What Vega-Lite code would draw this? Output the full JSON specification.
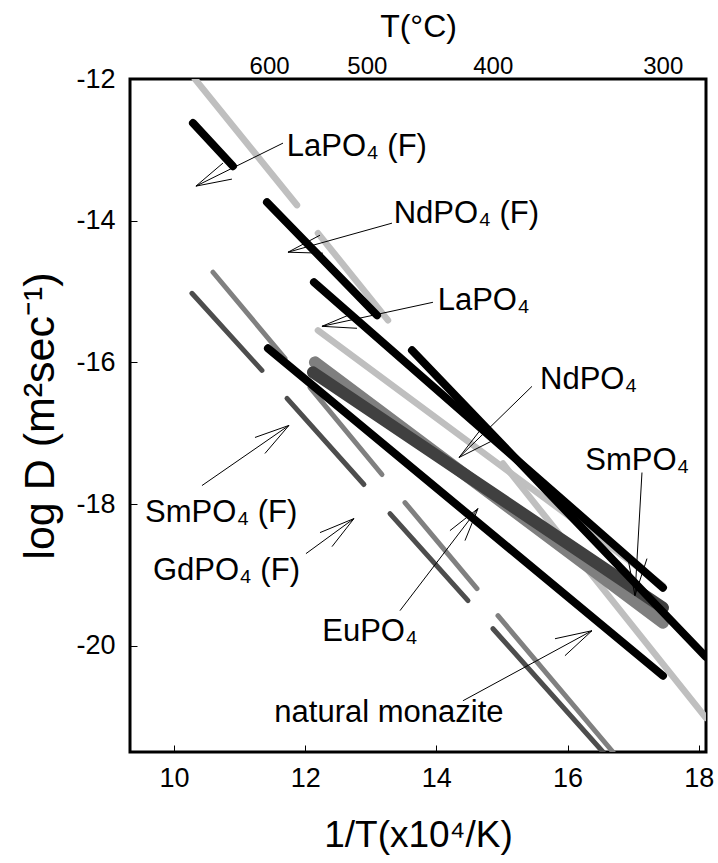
{
  "$schema": "https://vega.github.io/schema/vega-lite/v6.json",
  "width": 576,
  "height": 673,
  "autosize": {"type": "none"},
  "padding": {"left": 130, "top": 79, "right": 12, "bottom": 111},
  "background": "white",
  "config": {
    "font": "Liberation Sans",
    "view": {"stroke": "black", "strokeWidth": 3},
    "axis": {
      "grid": false,
      "domain": false,
      "labelFont": "Liberation Sans",
      "titleFont": "Liberation Sans",
      "labelColor": "black",
      "titleColor": "black",
      "tickColor": "black",
      "titleFontWeight": "normal"
    }
  },
  "datasets": {
    "curves": [
      {"id": "L1", "x": 10.32, "y": -12.0, "x2": 11.875, "y2": -13.78},
      {"id": "L4", "x": 12.195, "y": -14.177, "x2": 13.262, "y2": -15.406},
      {"id": "L6", "x": 12.195, "y": -15.548, "x2": 17.454, "y2": -19.152},
      {"id": "L11", "x": 15.015, "y": -17.428, "x2": 18.11, "y2": -21.018},
      {"id": "L12", "x": 10.274, "y": -15.025, "x2": 11.341, "y2": -16.113},
      {"id": "L13", "x": 10.595, "y": -14.728, "x2": 11.692, "y2": -15.943},
      {"id": "L14", "x": 11.723, "y": -16.509, "x2": 12.896, "y2": -17.724},
      {"id": "L15", "x": 12.073, "y": -16.353, "x2": 13.171, "y2": -17.583},
      {"id": "L16", "x": 13.293, "y": -18.134, "x2": 14.482, "y2": -19.364},
      {"id": "L17", "x": 13.521, "y": -17.979, "x2": 14.619, "y2": -19.194},
      {"id": "L18", "x": 14.863, "y": -19.76, "x2": 16.54, "y2": -21.5},
      {"id": "L19", "x": 14.939, "y": -19.576, "x2": 16.692, "y2": -21.5},
      {"id": "L8", "x": 12.149, "y": -16.0, "x2": 17.454, "y2": -19.675},
      {"id": "L9", "x": 12.119, "y": -16.141, "x2": 17.454, "y2": -19.463},
      {"id": "L2", "x": 10.29, "y": -12.622, "x2": 10.899, "y2": -13.23},
      {"id": "L3", "x": 11.418, "y": -13.739, "x2": 13.095, "y2": -15.336},
      {"id": "L5", "x": 12.134, "y": -14.869, "x2": 17.454, "y2": -19.18},
      {"id": "L7", "x": 13.628, "y": -15.83, "x2": 18.11, "y2": -20.16},
      {"id": "L10", "x": 11.433, "y": -15.802, "x2": 17.454, "y2": -20.424}
    ],
    "arrows": [
      {"x": 11.662, "y": -12.905, "x2": 10.335, "y2": -13.512},
      {"x": 10.335, "y": -13.512, "x2": 10.747, "y2": -13.187},
      {"x": 10.335, "y": -13.512, "x2": 10.884, "y2": -13.413},
      {"x": 13.323, "y": -14.035, "x2": 11.738, "y2": -14.445},
      {"x": 11.738, "y": -14.445, "x2": 12.226, "y2": -14.205},
      {"x": 11.738, "y": -14.445, "x2": 12.271, "y2": -14.459},
      {"x": 13.948, "y": -15.152, "x2": 12.256, "y2": -15.491},
      {"x": 12.256, "y": -15.491, "x2": 12.729, "y2": -15.307},
      {"x": 12.256, "y": -15.491, "x2": 12.79, "y2": -15.519},
      {"x": 15.457, "y": -16.339, "x2": 14.345, "y2": -17.343},
      {"x": 14.345, "y": -17.343, "x2": 14.665, "y2": -16.961},
      {"x": 14.345, "y": -17.343, "x2": 14.863, "y2": -17.102},
      {"x": 17.134, "y": -17.555, "x2": 17.027, "y2": -19.293},
      {"x": 17.027, "y": -19.293, "x2": 16.921, "y2": -18.77},
      {"x": 17.027, "y": -19.293, "x2": 17.21, "y2": -18.77},
      {"x": 10.427, "y": -17.739, "x2": 11.753, "y2": -16.89},
      {"x": 11.753, "y": -16.89, "x2": 11.235, "y2": -17.06},
      {"x": 11.753, "y": -16.89, "x2": 11.387, "y2": -17.286},
      {"x": 12.012, "y": -18.7, "x2": 12.744, "y2": -18.205},
      {"x": 12.744, "y": -18.205, "x2": 12.226, "y2": -18.403},
      {"x": 12.744, "y": -18.205, "x2": 12.409, "y2": -18.601},
      {"x": 13.445, "y": -19.505, "x2": 14.634, "y2": -18.064},
      {"x": 14.634, "y": -18.064, "x2": 14.207, "y2": -18.375},
      {"x": 14.634, "y": -18.064, "x2": 14.436, "y2": -18.516},
      {"x": 14.405, "y": -20.777, "x2": 16.372, "y2": -19.788},
      {"x": 16.372, "y": -19.788, "x2": 15.808, "y2": -19.901},
      {"x": 16.372, "y": -19.788, "x2": 15.96, "y2": -20.141}
    ],
    "labels": [
      {"x": 11.72, "y": -12.96, "label": "LaPO₄ (F)"},
      {"x": 13.35, "y": -13.91, "label": "NdPO₄ (F)"},
      {"x": 14.02, "y": -15.14, "label": "LaPO₄"},
      {"x": 15.58, "y": -16.25, "label": "NdPO₄"},
      {"x": 16.27, "y": -17.39, "label": "SmPO₄"},
      {"x": 9.56, "y": -18.12, "label": "SmPO₄ (F)"},
      {"x": 9.68, "y": -18.95, "label": "GdPO₄ (F)"},
      {"x": 12.26, "y": -19.8, "label": "EuPO₄"},
      {"x": 11.53, "y": -20.947, "label": "natural monazite"}
    ]
  },
  "layer": [
    {
      "data": {"name": "curves"},
      "transform": [{"filter": {"field": "id", "oneOf": ["L1", "L4", "L6", "L11"]}}],
      "mark": {"type": "rule", "strokeCap": "round", "clip": true, "strokeWidth": 6.5, "color": "#bfbfbf"},
      "encoding": {
        "x": {
          "field": "x", "type": "quantitative",
          "scale": {"domain": [9.33, 18.11], "nice": false, "zero": false},
          "axis": {
            "orient": "bottom",
            "values": [10, 12, 14, 16, 18],
            "tickSize": -7,
            "tickWidth": 1,
            "labelFontSize": 27,
            "labelPadding": 20,
            "title": "1/T(x10⁴/K)",
            "titleFontSize": 37,
            "titlePadding": 26
          }
        },
        "y": {
          "field": "y", "type": "quantitative",
          "scale": {"domain": [-21.5, -12], "nice": false, "zero": false},
          "axis": {
            "values": [-12, -14, -16, -18, -20],
            "labelExpr": "'-' + abs(datum.value)",
            "tickSize": -7,
            "tickWidth": 1,
            "labelFontSize": 27,
            "labelPadding": 22,
            "title": "log D (m²sec⁻¹)",
            "titleFontSize": 43,
            "titlePadding": 13
          }
        },
        "x2": {"field": "x2"},
        "y2": {"field": "y2"}
      }
    },
    {
      "data": {"name": "curves"},
      "transform": [{"filter": {"field": "id", "oneOf": ["L12", "L13", "L14", "L15", "L16", "L17", "L18", "L19"]}}],
      "mark": {"type": "rule", "strokeCap": "round", "clip": true, "strokeWidth": 5},
      "encoding": {
        "x": {"field": "x", "type": "quantitative", "axis": null},
        "y": {"field": "y", "type": "quantitative"},
        "x2": {"field": "x2"},
        "y2": {"field": "y2"},
        "color": {
          "field": "id", "type": "nominal", "legend": null,
          "scale": {
            "domain": ["L12", "L13", "L14", "L15", "L16", "L17", "L18", "L19"],
            "range": ["#4d4d4d", "#808080", "#4d4d4d", "#808080", "#4d4d4d", "#808080", "#4d4d4d", "#808080"]
          }
        }
      }
    },
    {
      "data": {"name": "curves"},
      "transform": [{"filter": {"field": "id", "oneOf": ["L8", "L9"]}}],
      "mark": {"type": "rule", "strokeCap": "round", "clip": true, "strokeWidth": 12},
      "encoding": {
        "x": {"field": "x", "type": "quantitative", "axis": null},
        "y": {"field": "y", "type": "quantitative"},
        "x2": {"field": "x2"},
        "y2": {"field": "y2"},
        "stroke": {
          "field": "id", "type": "nominal", "legend": null,
          "scale": {"domain": ["L8", "L9"], "range": ["#7f7f7f", "#404040"]}
        }
      }
    },
    {
      "data": {"name": "curves"},
      "transform": [{"filter": {"field": "id", "oneOf": ["L2", "L3", "L5", "L7", "L10"]}}],
      "mark": {"type": "rule", "strokeCap": "round", "clip": true, "strokeWidth": 8, "color": "black"},
      "encoding": {
        "x": {"field": "x", "type": "quantitative", "axis": null},
        "y": {"field": "y", "type": "quantitative"},
        "x2": {"field": "x2"},
        "y2": {"field": "y2"}
      }
    },
    {
      "data": {"name": "arrows"},
      "mark": {"type": "rule", "color": "black", "strokeWidth": 1},
      "encoding": {
        "x": {"field": "x", "type": "quantitative", "axis": null},
        "y": {"field": "y", "type": "quantitative"},
        "x2": {"field": "x2"},
        "y2": {"field": "y2"}
      }
    },
    {
      "data": {"name": "labels"},
      "mark": {"type": "text", "align": "left", "baseline": "middle", "fontSize": 31, "font": "Liberation Sans", "color": "black"},
      "encoding": {
        "x": {
          "field": "x", "type": "quantitative",
          "axis": {
            "orient": "top",
            "values": [11.45, 12.94, 14.86, 17.45],
            "labelExpr": "datum.value < 12 ? '600' : datum.value < 14 ? '500' : datum.value < 16 ? '400' : '300'",
            "ticks": false,
            "labelFontSize": 24,
            "labelPadding": 1,
            "title": "T(°C)",
            "titleFontSize": 32,
            "titlePadding": 11
          }
        },
        "y": {"field": "y", "type": "quantitative"},
        "text": {"field": "label"}
      }
    }
  ],
  "resolve": {"axis": {"x": "independent"}}
}
